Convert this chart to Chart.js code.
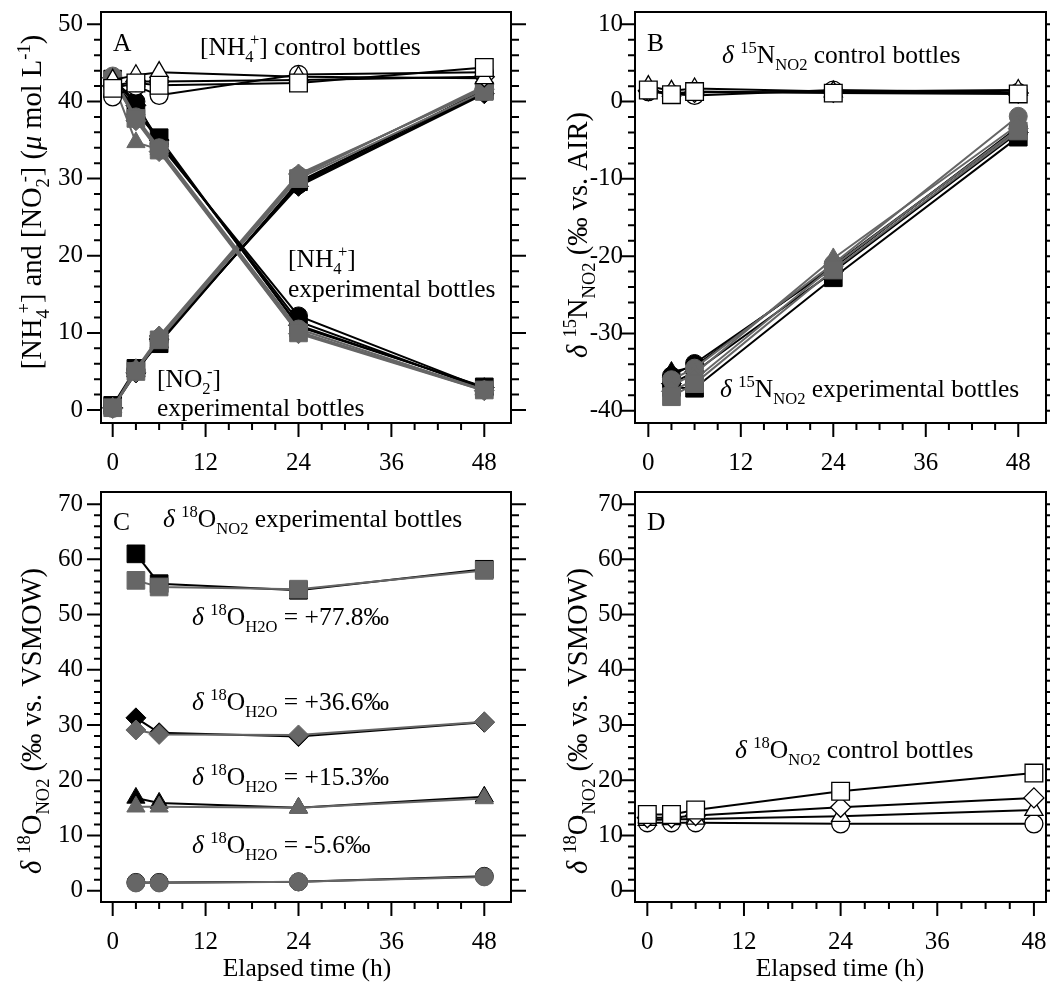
<!DOCTYPE html>
<html>
<head>
<meta charset="utf-8">
<script src="https://cdn.jsdelivr.net/npm/chart.js@4.4.1/dist/chart.umd.min.js"></script>
<style>
  body { margin: 0; background: #fff; width: 1050px; height: 982px; position: relative; overflow: hidden; }
  canvas { position: absolute; }
</style>
</head>
<body>
<canvas id="cA" width="545" height="490" style="left:0;top:0"></canvas>
<canvas id="cB" width="505" height="490" style="left:545px;top:0"></canvas>
<canvas id="cC" width="545" height="492" style="left:0;top:490px"></canvas>
<canvas id="cD" width="505" height="492" style="left:545px;top:490px"></canvas>
<script>
// sampling times (h)
const hoursAll = [0, 3, 6, 24, 48];
const hoursExp = [3, 6, 24, 48];

// tick labels
const xTicks = [0, 12, 24, 36, 48];
const yTicksA = [0, 10, 20, 30, 40, 50];
const yTicksB = [-40, -30, -20, -10, 0, 10];
const yTicksC = [0, 10, 20, 30, 40, 50, 60, 70];

// A: [NH4+] control bottles (umol/L)
const nh4CtrlCircle = [40.6, 42.0, 40.8, 43.5, 43.8];
const nh4CtrlTriangle = [42.8, 43.4, 43.8, 43.2, 43.0];
const nh4CtrlDiamond = [42.0, 42.6, 42.6, 42.8, 43.2];
const nh4CtrlSquare = [41.7, 42.4, 42.1, 42.4, 44.4];

// A: [NH4+] experimental bottles
const nh4ExpBlackCircle = [43.0, 40.0, 34.5, 12.2, 2.8];
const nh4ExpBlackTriangle = [42.8, 39.0, 34.8, 11.5, 2.7];
const nh4ExpBlackDiamond = [43.1, 39.5, 35.0, 11.0, 2.9];
const nh4ExpBlackSquare = [42.9, 38.5, 35.3, 10.8, 3.0];
const nh4ExpGrayCircle = [43.3, 38.0, 34.0, 10.5, 2.6];
const nh4ExpGrayTriangle = [42.6, 34.7, 33.8, 10.2, 2.5];
const nh4ExpGrayDiamond = [43.0, 37.5, 33.5, 9.9, 2.5];
const nh4ExpGraySquare = [42.7, 37.8, 33.7, 10.0, 2.6];

// A: [NO2-] experimental bottles
const no2ExpBlackCircle = [0.3, 5.2, 9.0, 29.2, 41.2];
const no2ExpBlackTriangle = [0.4, 5.0, 8.8, 29.4, 41.5];
const no2ExpBlackDiamond = [0.3, 4.8, 9.2, 29.0, 41.0];
const no2ExpBlackSquare = [0.6, 5.4, 8.6, 29.6, 41.4];
const no2ExpGrayCircle = [0.2, 5.1, 9.3, 30.4, 41.8];
const no2ExpGrayTriangle = [0.3, 5.3, 9.5, 30.2, 42.0];
const no2ExpGrayDiamond = [0.2, 4.9, 9.6, 30.6, 41.6];
const no2ExpGraySquare = [0.3, 5.0, 9.1, 30.0, 41.3];

// B: d15N-NO2 control bottles
const n15CtrlSquare = [1.5, 0.9, 1.3, 1.1, 1.0];
const n15CtrlTriangle = [2.0, 1.4, 1.7, 1.3, 1.5];
const n15CtrlCircle = [1.3, 1.0, 0.8, 1.5, 1.2];
const n15CtrlDiamond = [1.4, 1.1, 1.2, 1.2, 1.1];

// B: d15N-NO2 experimental bottles
const n15ExpBlackCircle = [-35.5, -33.9, -21.5, -3.3];
const n15ExpBlackTriangle = [-35.0, -34.3, -21.2, -3.6];
const n15ExpBlackDiamond = [-36.5, -35.0, -22.0, -4.0];
const n15ExpBlackSquare = [-37.0, -37.1, -22.8, -4.6];
const n15ExpGrayCircle = [-36.0, -34.5, -21.0, -1.9];
const n15ExpGrayTriangle = [-36.8, -35.2, -20.3, -3.0];
const n15ExpGrayDiamond = [-37.5, -36.0, -21.3, -3.5];
const n15ExpGraySquare = [-38.2, -36.5, -21.8, -3.8];

// C: d18O-NO2 experimental bottles, one pair per d18O-H2O
const o18Exp778Black = [61.0, 55.6, 54.4, 58.2];
const o18Exp778Gray = [56.2, 55.0, 54.6, 58.0];
const o18Exp366Black = [31.3, 28.6, 27.9, 30.5];
const o18Exp366Gray = [29.1, 28.3, 28.2, 30.6];
const o18Exp153Black = [16.8, 15.9, 15.0, 17.0];
const o18Exp153Gray = [15.2, 15.2, 15.0, 16.7];
const o18ExpM56Black = [1.5, 1.5, 1.6, 2.6];
const o18ExpM56Gray = [1.4, 1.4, 1.6, 2.5];

// D: d18O-NO2 control bottles
const o18CtrlSquare = [13.8, 13.8, 14.6, 18.0, 21.3];
const o18CtrlDiamond = [13.2, 13.2, 13.6, 15.1, 16.8];
const o18CtrlTriangle = [12.8, 12.9, 13.0, 13.5, 14.6];
const o18CtrlCircle = [12.3, 12.3, 12.3, 12.1, 12.1];

const SERIF = '"Liberation Serif", "Times New Roman", serif';
const BLACK = "#000000", GRAY = "#666666", WHITE = "#ffffff";
const RADIUS = { circle: 9, triangle: 10.5, rectRot: 10, rect: 12.5 };
const NOTE_SIZE = 25.5, TITLE_SIZE = 28.5;

function series(xs, ys, shape, color, hollow) {
  return {
    data: xs.map((x, i) => ({ x, y: ys[i] })),
    showLine: true,
    borderColor: hollow ? BLACK : color,
    borderWidth: 2,
    pointStyle: shape,
    pointRadius: RADIUS[shape],
    pointHoverRadius: RADIUS[shape],
    pointBackgroundColor: hollow ? WHITE : color,
    pointBorderColor: hollow ? BLACK : color,
    pointBorderWidth: hollow ? 1.3 : 1,
    clip: false,
  };
}

// rich text: parts are [text, kind]; kind n / i / sup / sub / ss (stacked sub+sup)
function drawRich(ctx, parts, x, y, size, align, rot) {
  const small = size * 0.65;
  const font = (s, it) => `${it ? "italic " : ""}${s}px ${SERIF}`;
  const pieces = [];
  let w = 0;
  for (const [t, k] of parts) {
    if (k === "ss") {
      ctx.font = font(small);
      const w1 = ctx.measureText(t[0]).width, w2 = ctx.measureText(t[1]).width;
      pieces.push({ t: t[0], f: font(small), dx: w, dy: size * 0.28 });
      pieces.push({ t: t[1], f: font(small), dx: w + w1 * 0.55, dy: -size * 0.4 });
      w += Math.max(w1, w1 * 0.55 + w2);
    } else if (k === "sup" || k === "sub") {
      ctx.font = font(small);
      pieces.push({ t, f: font(small), dx: w, dy: k === "sup" ? -size * 0.4 : size * 0.28 });
      w += ctx.measureText(t).width;
    } else {
      ctx.font = font(size, k === "i");
      pieces.push({ t, f: font(size, k === "i"), dx: w, dy: 0 });
      w += ctx.measureText(t).width;
    }
  }
  ctx.save();
  ctx.translate(x, y);
  if (rot) ctx.rotate(rot);
  ctx.fillStyle = BLACK;
  ctx.textBaseline = "alphabetic";
  ctx.textAlign = "left";
  const off = align === "center" ? -w / 2 : 0;
  pieces.forEach((p) => { ctx.font = p.f; ctx.fillText(p.t, off + p.dx, p.dy); });
  ctx.restore();
}

function range(a, b, step) {
  const out = [];
  for (let v = a; v <= b + 1e-9; v += step) out.push(v);
  return out;
}

const UP = -Math.PI / 2;
const d15 = [["δ", "i"], [" ", "n"], ["15", "sup"], ["N", "n"], ["NO2", "sub"]];
const d18no2 = [["δ", "i"], [" ", "n"], ["18", "sup"], ["O", "n"], ["NO2", "sub"]];
const d18h2o = [["δ", "i"], [" ", "n"], ["18", "sup"], ["O", "n"], ["H2O", "sub"]];

const panels = [
  {
    id: "cA", area: [101, 12, 511, 423], x: [-1.51, 51.45], y: [-1.68, 51.6],
    yTicks: yTicksA, yMinor: 2, xPad: 25, yPad: 18,
    datasets: [
      series(hoursAll, nh4CtrlSquare, "rect", BLACK, true),
      series(hoursAll, nh4CtrlTriangle, "triangle", BLACK, true),
      series(hoursAll, nh4CtrlDiamond, "rectRot", BLACK, true),
      series(hoursAll, nh4CtrlCircle, "circle", BLACK, true),
      series(hoursAll, nh4ExpGraySquare, "rect", GRAY),
      series(hoursAll, nh4ExpGrayDiamond, "rectRot", GRAY),
      series(hoursAll, nh4ExpGrayTriangle, "triangle", GRAY),
      series(hoursAll, nh4ExpGrayCircle, "circle", GRAY),
      series(hoursAll, nh4ExpBlackSquare, "rect", BLACK),
      series(hoursAll, nh4ExpBlackDiamond, "rectRot", BLACK),
      series(hoursAll, nh4ExpBlackTriangle, "triangle", BLACK),
      series(hoursAll, nh4ExpBlackCircle, "circle", BLACK),
      series(hoursAll, no2ExpGraySquare, "rect", GRAY),
      series(hoursAll, no2ExpGrayDiamond, "rectRot", GRAY),
      series(hoursAll, no2ExpGrayTriangle, "triangle", GRAY),
      series(hoursAll, no2ExpGrayCircle, "circle", GRAY),
      series(hoursAll, no2ExpBlackSquare, "rect", BLACK),
      series(hoursAll, no2ExpBlackDiamond, "rectRot", BLACK),
      series(hoursAll, no2ExpBlackTriangle, "triangle", BLACK),
      series(hoursAll, no2ExpBlackCircle, "circle", BLACK),
    ],
    notes: [
      { x: 113, y: 51, parts: [["A", "n"]] },
      { x: 200, y: 55, parts: [["[NH", "n"], [["4", "+"], "ss"], ["] control bottles", "n"]] },
      { x: 288, y: 267, parts: [["[NH", "n"], [["4", "+"], "ss"], ["]", "n"]] },
      { x: 288, y: 297, parts: [["experimental bottles", "n"]] },
      { x: 157, y: 387, parts: [["[NO", "n"], [["2", "-"], "ss"], ["]", "n"]] },
      { x: 157, y: 416, parts: [["experimental bottles", "n"]] },
      { x: 41, y: 202, rot: UP, align: "center", size: TITLE_SIZE,
        parts: [["[NH", "n"], [["4", "+"], "ss"], ["] and [NO", "n"], [["2", "-"], "ss"], ["] (", "n"], ["μ", "i"], [" mol L", "n"], ["-1", "sup"], [")", "n"]] },
    ],
  },
  {
    id: "cB", area: [90, 12, 501, 423], x: [-1.73, 51.6], y: [-41.6, 11.6],
    yTicks: yTicksB, yMinor: 2, xPad: 25, yPad: 12,
    datasets: [
      series(hoursAll, n15CtrlSquare, "rect", BLACK, true),
      series(hoursAll, n15CtrlTriangle, "triangle", BLACK, true),
      series(hoursAll, n15CtrlDiamond, "rectRot", BLACK, true),
      series(hoursAll, n15CtrlCircle, "circle", BLACK, true),
      series(hoursExp, n15ExpGraySquare, "rect", GRAY),
      series(hoursExp, n15ExpGrayDiamond, "rectRot", GRAY),
      series(hoursExp, n15ExpGrayTriangle, "triangle", GRAY),
      series(hoursExp, n15ExpGrayCircle, "circle", GRAY),
      series(hoursExp, n15ExpBlackSquare, "rect", BLACK),
      series(hoursExp, n15ExpBlackDiamond, "rectRot", BLACK),
      series(hoursExp, n15ExpBlackTriangle, "triangle", BLACK),
      series(hoursExp, n15ExpBlackCircle, "circle", BLACK),
    ],
    notes: [
      { x: 102, y: 51, parts: [["B", "n"]] },
      { x: 177, y: 63, parts: [...d15, [" control bottles", "n"]] },
      { x: 175, y: 397, parts: [...d15, [" experimental bottles", "n"]] },
      { x: 42, y: 235, rot: UP, align: "center", size: TITLE_SIZE, parts: [...d15, [" (‰ vs. AIR)", "n"]] },
    ],
  },
  {
    id: "cC", area: [101, 2, 511, 412], x: [-1.51, 51.45], y: [-2.05, 72.2],
    yTicks: yTicksC, yMinor: 2, xPad: 25, yPad: 18,
    datasets: [
      series(hoursExp, o18Exp778Gray, "rect", GRAY),
      series(hoursExp, o18Exp778Black, "rect", BLACK),
      series(hoursExp, o18Exp366Gray, "rectRot", GRAY),
      series(hoursExp, o18Exp366Black, "rectRot", BLACK),
      series(hoursExp, o18Exp153Gray, "triangle", GRAY),
      series(hoursExp, o18Exp153Black, "triangle", BLACK),
      series(hoursExp, o18ExpM56Gray, "circle", GRAY),
      series(hoursExp, o18ExpM56Black, "circle", BLACK),
    ],
    notes: [
      { x: 113, y: 40, parts: [["C", "n"]] },
      { x: 163, y: 37, parts: [...d18no2, [" experimental bottles", "n"]] },
      { x: 192, y: 135, parts: [...d18h2o, [" = +77.8‰", "n"]] },
      { x: 192, y: 220, parts: [...d18h2o, [" = +36.6‰", "n"]] },
      { x: 192, y: 295, parts: [...d18h2o, [" = +15.3‰", "n"]] },
      { x: 192, y: 363, parts: [...d18h2o, [" = -5.6‰", "n"]] },
      { x: 41, y: 231, rot: UP, align: "center", size: TITLE_SIZE, parts: [...d18no2, [" (‰ vs. VSMOW)", "n"]] },
      { x: 307, y: 486, align: "center", parts: [["Elapsed time (h)", "n"]] },
    ],
  },
  {
    id: "cD", area: [90, 2, 501, 412], x: [-1.53, 49.5], y: [-2.05, 72.2],
    yTicks: yTicksC, yMinor: 2, xPad: 25, yPad: 12,
    datasets: [
      series(hoursAll, o18CtrlSquare, "rect", BLACK, true),
      series(hoursAll, o18CtrlDiamond, "rectRot", BLACK, true),
      series(hoursAll, o18CtrlTriangle, "triangle", BLACK, true),
      series(hoursAll, o18CtrlCircle, "circle", BLACK, true),
    ],
    notes: [
      { x: 102, y: 40, parts: [["D", "n"]] },
      { x: 190, y: 268, parts: [...d18no2, [" control bottles", "n"]] },
      { x: 42, y: 231, rot: UP, align: "center", size: TITLE_SIZE, parts: [...d18no2, [" (‰ vs. VSMOW)", "n"]] },
      { x: 295, y: 486, align: "center", parts: [["Elapsed time (h)", "n"]] },
    ],
  },
];

Chart.defaults.font.family = SERIF;
Chart.defaults.color = BLACK;

function makeChart(p) {
  const canvas = document.getElementById(p.id);
  const [L, T, R, B] = p.area;
  const frame = {
    id: "frame" + p.id,
    afterDatasetsDraw(chart) {
      const { ctx, chartArea: a, scales: { x, y } } = chart;
      ctx.save();
      ctx.strokeStyle = BLACK;
      ctx.lineWidth = 2;
      ctx.strokeRect(a.left, a.top, a.right - a.left, a.bottom - a.top);
      ctx.beginPath();
      range(0, 48, 3).forEach((v) => {
        const px = x.getPixelForValue(v);
        const len = v % 12 === 0 ? 14 : 7;
        ctx.moveTo(px, a.bottom);
        ctx.lineTo(px, a.bottom + len);
      });
      range(p.yTicks[0], p.yTicks[p.yTicks.length - 1], p.yMinor).forEach((v) => {
        const py = y.getPixelForValue(v);
        const major = p.yTicks.includes(v);
        ctx.moveTo(a.left - (major ? 14 : 7), py);
        ctx.lineTo(a.left, py);
        ctx.moveTo(a.right, py);
        ctx.lineTo(a.right + (major ? 15 : 8), py);
      });
      ctx.stroke();
      ctx.restore();
    },
    afterDraw(chart) {
      p.notes.forEach((n) => drawRich(chart.ctx, n.parts, n.x, n.y, n.size || NOTE_SIZE, n.align, n.rot));
    },
  };
  return new Chart(canvas, {
    type: "scatter",
    data: { datasets: p.datasets },
    options: {
      responsive: false,
      animation: false,
      events: [],
      layout: { autoPadding: false, padding: { left: 0, top: T, right: canvas.width - R, bottom: 0 } },
      plugins: { legend: { display: false }, tooltip: { enabled: false } },
      scales: {
        x: {
          type: "linear", min: p.x[0], max: p.x[1],
          grid: { display: false, drawTicks: false }, border: { display: false },
          ticks: { font: { size: 25 }, color: BLACK, padding: p.xPad, maxRotation: 0, autoSkip: false, callback: (v) => String(v) },
          afterBuildTicks: (s) => { s.ticks = xTicks.map((v) => ({ value: v })); },
          afterFit: (s) => { s.height = canvas.height - B; s.paddingLeft = 0; s.paddingRight = 0; },
        },
        y: {
          type: "linear", min: p.y[0], max: p.y[1],
          grid: { display: false, drawTicks: false }, border: { display: false },
          ticks: { font: { size: 25 }, color: BLACK, padding: p.yPad, autoSkip: false, callback: (v) => String(v) },
          afterBuildTicks: (s) => { s.ticks = p.yTicks.map((v) => ({ value: v })); },
          afterFit: (s) => { s.width = L; s.paddingTop = 0; s.paddingBottom = 0; },
        },
      },
    },
    plugins: [frame],
  });
}

panels.forEach(makeChart);
</script>
</body>
</html>
